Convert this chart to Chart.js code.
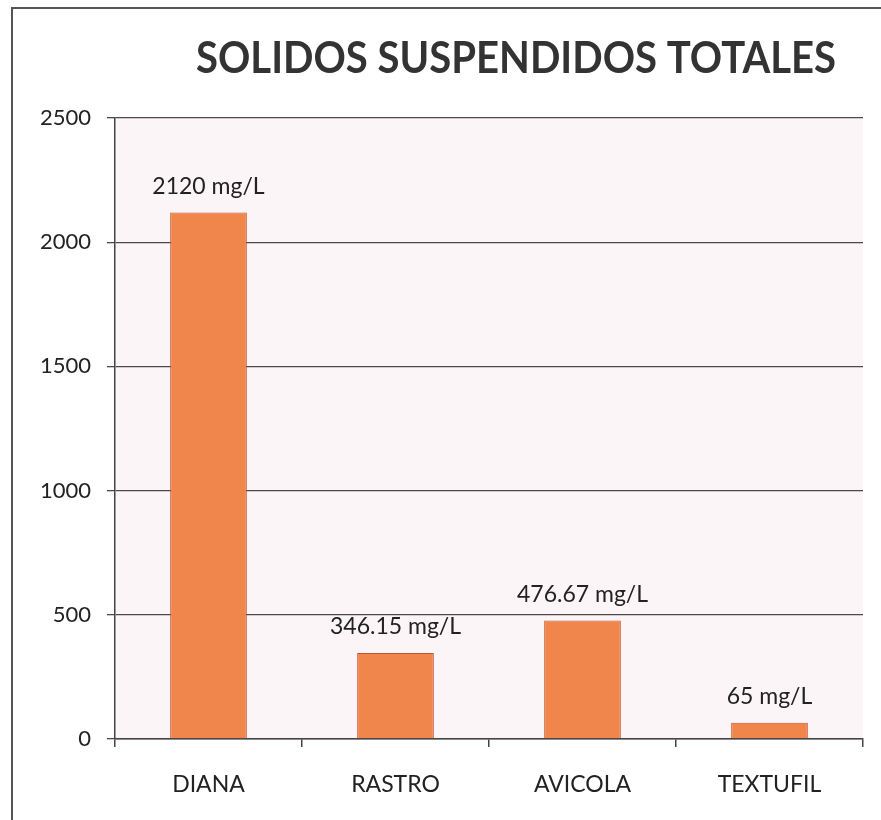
<!DOCTYPE html>
<html>
<head>
<meta charset="utf-8">
<script src="https://cdn.jsdelivr.net/npm/chart.js@4"></script>
<style>
    body { margin: 0; background: #fff; overflow: hidden; }
    #chart { display: block; }
</style>
</head>
<body>
<canvas id="chart" width="881" height="820"></canvas>
<script>
const chartTitle = 'SOLIDOS SUSPENDIDOS TOTALES';
const categories = ['DIANA', 'RASTRO', 'AVICOLA', 'TEXTUFIL'];
const values = [2120, 346.15, 476.67, 65];
const valueLabels = ['2120 mg/L', '346.15 mg/L', '476.67 mg/L', '65 mg/L'];
const yTicks = [0, 500, 1000, 1500, 2000, 2500];

const FONT = 'Lato, "Open Sans", sans-serif';

// page frame + faint pink plot background
const plotBg = {
    id: 'plotBg',
    beforeDraw(chart) {
        const { ctx, chartArea: a } = chart;
        ctx.save();
        ctx.strokeStyle = '#555';
        ctx.lineWidth = 2;
        ctx.beginPath();
        ctx.moveTo(12, 820);
        ctx.lineTo(12, 8);
        ctx.lineTo(881, 8);
        ctx.stroke();
        ctx.fillStyle = '#fcf5f7';
        ctx.fillRect(a.left, a.top, a.right - a.left, a.bottom - a.top);
        ctx.restore();
    }
};

// title fitted to the width of the original
const titlePlugin = {
    id: 'titlePlugin',
    afterDraw(chart) {
        const ctx = chart.ctx;
        ctx.save();
        ctx.font = 'bold 43px Lato, "Open Sans", sans-serif';
        ctx.fillStyle = '#333';
        ctx.textBaseline = 'middle';
        ctx.textAlign = 'center';
        const w = ctx.measureText(chartTitle).width;
        ctx.translate(516, 59);
        ctx.scale(640 / w, 1);
        ctx.fillText(chartTitle, 0, 0);
        ctx.restore();
    }
};

// value labels above the bars
const barLabels = {
    id: 'barLabels',
    afterDatasetsDraw(chart) {
        const ctx = chart.ctx;
        const meta = chart.getDatasetMeta(0);
        ctx.save();
        ctx.font = '23px ' + FONT;
        ctx.fillStyle = '#222';
        ctx.textAlign = 'center';
        ctx.textBaseline = 'middle';
        meta.data.forEach((bar, i) => {
            ctx.fillText(valueLabels[i], bar.x, bar.y - 26);
        });
        ctx.restore();
    }
};

new Chart(document.getElementById('chart'), {
    type: 'bar',
    data: {
        labels: categories,
        datasets: [{
            data: values,
            backgroundColor: '#f0864c',
            borderColor: '#c4522c',
            borderWidth: 1,
            barPercentage: 0.41,
            categoryPercentage: 1
        }]
    },
    options: {
        responsive: false,
        animation: false,
        layout: { padding: { left: 0, right: 18, top: 118, bottom: 0 } },
        plugins: {
            legend: { display: false },
            tooltip: { enabled: false },
            title: { display: false }
        },
        scales: {
            x: {
                grid: { offset: true, drawOnChartArea: false, drawTicks: true, tickLength: 8, color: '#444', lineWidth: 1.5 },
                border: { display: true, color: '#444', width: 1.5 },
                ticks: { font: { family: FONT, size: 23 }, color: '#222', padding: 24 },
                afterFit(scale) { scale.height = 81; }
            },
            y: {
                min: 0,
                max: 2500,
                afterBuildTicks(scale) { scale.ticks = yTicks.map(v => ({ value: v })); },
                grid: { color: '#4a4a4a', lineWidth: 1.3, tickLength: 8 },
                border: { display: true, color: '#444', width: 1.5 },
                ticks: { font: { family: FONT, size: 22 }, color: '#222', padding: 16, callback: v => String(v) },
                afterFit(scale) { scale.width = 115; }
            }
        }
    },
    plugins: [plotBg, barLabels, titlePlugin]
});
</script>
</body>
</html>
